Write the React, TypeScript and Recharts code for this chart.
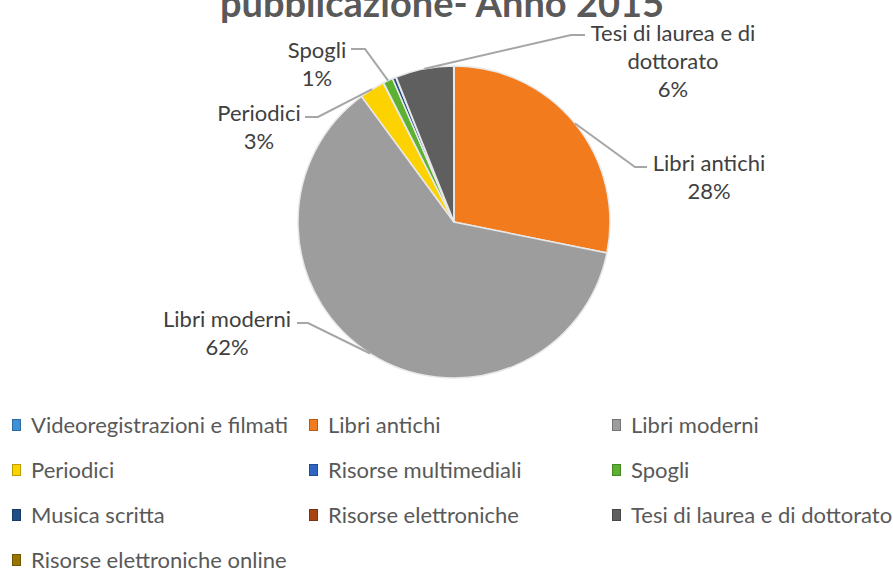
import React from 'react';
import { PieChart, Pie, Cell, Legend } from 'recharts';

// Distribuzione per tipo di pubblicazione - 2015 (percentuali)
const categories = [
  'Videoregistrazioni e filmati',
  'Libri antichi',
  'Libri moderni',
  'Periodici',
  'Risorse multimediali',
  'Spogli',
  'Musica scritta',
  'Risorse elettroniche',
  'Tesi di laurea e di dottorato',
  'Risorse elettroniche online',
];
const shares = [0.02, 28.1, 61.6, 2.6, 0.05, 1.0, 0.35, 0.05, 6.0, 0.03];
const labelled = ['Libri antichi', 'Libri moderni', 'Periodici', 'Spogli', 'Tesi di laurea e di dottorato'];
const titleText = 'pubblicazione- Anno 2015';

const sliceColors = [
  '#3d8fd6', '#f27b1d', '#9d9d9d', '#fcd200', '#2f64c2',
  '#5cb230', '#1f4f86', '#a84312', '#5f5f5f', '#9a7400',
];

const data = categories.map((name, i) => ({ name, value: shares[i] }));

const FONT = 'Lato, "Open Sans", sans-serif';
const TEXT = '#404040';

// label placement relative to the pie centre: text lines, elbow and line end
const labelLayout: Record<string, { lines: string[]; tx: number; ty: number; ex: number; ey: number; hx: number }> = {
  'Libri antichi': { lines: ['Libri antichi'], tx: 255, ty: -60, ex: 181, ey: -55, hx: 193 },
  'Libri moderni': { lines: ['Libri moderni'], tx: -227, ty: 96, ex: -146, ey: 101, hx: -157 },
  'Periodici': { lines: ['Periodici'], tx: -195, ty: -110, ex: -136, ey: -105, hx: -149 },
  'Spogli': { lines: ['Spogli'], tx: -137, ty: -173, ex: -89, ey: -173, hx: -103 },
  'Tesi di laurea e di dottorato': { lines: ['Tesi di laurea e di', 'dottorato'], tx: 219, ty: -190, ex: 117, ey: -187, hx: 131 },
};

const RAD = Math.PI / 180;

const renderLabel = (props: any) => {
  const { cx, cy, midAngle, outerRadius, percent, name } = props;
  if (!labelled.includes(name)) return null;
  const l = labelLayout[name];
  const px = cx + outerRadius * Math.cos(-midAngle * RAD);
  const py = cy + outerRadius * Math.sin(-midAngle * RAD);
  const lineH = 28;
  const all = [...l.lines, `${Math.round(percent * 100)}%`];
  return (
    <g>
      <polyline
        points={`${px},${py} ${cx + l.ex},${cy + l.ey} ${cx + l.hx},${cy + l.ey}`}
        fill="none"
        stroke="#a6a6a6"
        strokeWidth={2}
      />
      {all.map((t, i) => (
        <text
          key={i}
          x={cx + l.tx}
          y={cy + l.ty + i * lineH}
          textAnchor="middle"
          dominantBaseline="central"
          fill={TEXT}
          fontSize={22}
          fontFamily={FONT}
        >
          {t}
        </text>
      ))}
    </g>
  );
};

// legend in the series order (recharts would sort it otherwise)
const renderLegend = () => (
  <div
    style={{
      display: 'grid',
      gridTemplateColumns: '297px 303px 281px',
      gridAutoRows: '45px',
      fontFamily: FONT,
      fontSize: 22,
      color: '#595959',
    }}
  >
    {categories.map((name, i) => (
      <div key={name} style={{ display: 'flex', alignItems: 'center', whiteSpace: 'nowrap' }}>
        <span
          style={{
            display: 'inline-block',
            width: 9,
            height: 12,
            marginRight: 10,
            background: sliceColors[i],
            boxShadow: 'inset 0 0 0 1px rgba(0,0,0,0.25)',
          }}
        />
        {name}
      </div>
    ))}
  </div>
);

export default function App() {
  return (
    <div style={{ position: 'absolute', left: 0, top: 0, width: 893, height: 570, background: '#fff', overflow: 'hidden' }}>
      <PieChart width={893} height={570}>
        <Pie
          data={data}
          dataKey="value"
          nameKey="name"
          cx={449}
          cy={217}
          outerRadius={156}
          startAngle={90}
          endAngle={-270}
          stroke="#e8e8e8"
          strokeWidth={1.5}
          label={renderLabel}
          labelLine={false}
          isAnimationActive={false}
        >
          {data.map((d, i) => (
            <Cell key={d.name} fill={sliceColors[i]} />
          ))}
        </Pie>
        <Legend
          content={renderLegend}
          wrapperStyle={{ position: 'absolute', top: 402, left: 12, width: 881 }}
        />
      </PieChart>
      <svg width={893} height={570} style={{ position: 'absolute', left: 0, top: 0, pointerEvents: 'none' }}>
        <text x={442} y={17} textAnchor="middle" fill="#595959" fontSize={38} fontWeight={700} fontFamily={FONT}>
          {titleText}
        </text>
      </svg>
    </div>
  );
}
